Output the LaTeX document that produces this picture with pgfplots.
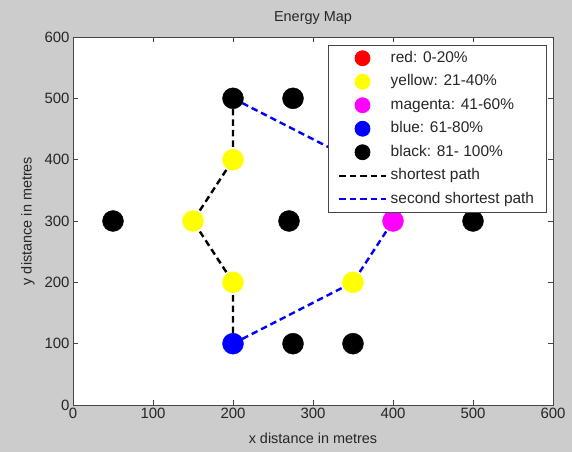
\documentclass[border=0pt]{standalone}
\usepackage{fontspec}
\setmainfont{Liberation Sans}
\usepackage{pgfplots}
\pgfplotsset{compat=1.18}
\definecolor{figgray}{RGB}{204,204,204}
\definecolor{axgray}{RGB}{70,70,70}
\definecolor{mymag}{RGB}{255,0,255}
\definecolor{myyel}{RGB}{255,255,0}
\definecolor{myblue}{RGB}{0,0,255}
\definecolor{myred}{RGB}{255,0,0}
\pgfplotsset{mylegend/.style={legend image code/.code={\draw[mark repeat=2,mark phase=2,##1] plot coordinates {(0bp,0bp)(23.5bp,0bp)(47bp,0bp)};}}}
\begin{document}
\begin{tikzpicture}
\fill[figgray] (0,0) rectangle (572bp,452bp);
\begin{axis}[
  at={(73bp,47bp)}, anchor=south west,
  width=480bp, height=368bp, scale only axis,
  xmin=0, xmax=600, ymin=0, ymax=600,
  xtick={0,100,...,600}, ytick={0,100,...,600},
  tick align=inside, major tick length=5bp,
  axis line style={axgray, line width=0.9pt},
  tick style={axgray, line width=0.6pt},
  axis background/.style={fill=white},
  /pgf/number format/assume math mode=true,
  ticklabel style={font=\fontsize{15}{15}\selectfont, text=black!85},
  title={Energy Map},
  title style={at={(axis description cs:0.5,1.036)}, anchor=center, font=\fontsize{14.5}{15}\selectfont, text=black!85},
  xlabel={x distance in metres},
  ylabel={y distance in metres},
  xlabel style={at={(axis description cs:0.5,-0.0897)}, anchor=center, font=\fontsize{14.5}{15}\selectfont, text=black!85},
  ylabel style={at={(axis description cs:-0.09375,0.5)}, anchor=center, font=\fontsize{14.5}{15}\selectfont, text=black!85},
  legend style={at={(axis description cs:0.9875,0.978)}, anchor=north east,
    draw=axgray, fill=white, line width=0.8pt, font=\fontsize{15.5}{16}\selectfont, text=black!85,
    inner xsep=9bp, inner ysep=3bp, row sep=4bp,
    nodes={inner ysep=2.5bp, inner xsep=3.5bp, text height=11.5bp, text depth=3bp}},
  legend cell align=left,
]
% paths
\addplot[black, line width=2.4bp, dash pattern=on 6.5bp off 4bp, forget plot] coordinates {(200,100) (200,200) (150,300) (200,400) (200,500)};
\addplot[myblue, line width=2.4bp, dash pattern=on 6.5bp off 4bp, forget plot] coordinates {(200,100) (350,200) (400,300) (350,400) (200,500)};
% nodes
\addplot[only marks, mark=*, mark size=10.5bp, mark options={fill=black, draw=black}, forget plot] coordinates {(200,500) (275,500) (50,300) (270,300) (500,300) (275,100) (350,100)};
\addplot[only marks, mark=*, mark size=10.5bp, mark options={fill=myyel, draw=myyel}, forget plot] coordinates {(200,400) (150,300) (200,200) (350,200)};
\addplot[only marks, mark=*, mark size=10.5bp, mark options={fill=mymag, draw=mymag}, forget plot] coordinates {(400,300)};
\addplot[only marks, mark=*, mark size=10.5bp, mark options={fill=myblue, draw=myblue}, forget plot] coordinates {(200,100)};
% legend
\addlegendimage{only marks, mark=*, mark size=7.5bp, mark options={fill=myred, draw=myred}, mylegend}
\addlegendentry{red: 0-20\%}
\addlegendimage{only marks, mark=*, mark size=7.5bp, mark options={fill=myyel, draw=myyel}, mylegend}
\addlegendentry{yellow: 21-40\%}
\addlegendimage{only marks, mark=*, mark size=7.5bp, mark options={fill=mymag, draw=mymag}, mylegend}
\addlegendentry{magenta: 41-60\%}
\addlegendimage{only marks, mark=*, mark size=7.5bp, mark options={fill=myblue, draw=myblue}, mylegend}
\addlegendentry{blue: 61-80\%}
\addlegendimage{only marks, mark=*, mark size=7.5bp, mark options={fill=black, draw=black}, mylegend}
\addlegendentry{black: 81- 100\%}
\addlegendimage{black, line width=2.4bp, dash pattern=on 6.5bp off 4bp, mylegend}
\addlegendentry{shortest path}
\addlegendimage{myblue, line width=2.4bp, dash pattern=on 6.5bp off 4bp, mylegend}
\addlegendentry{second shortest path}
\end{axis}
\end{tikzpicture}
\end{document}
